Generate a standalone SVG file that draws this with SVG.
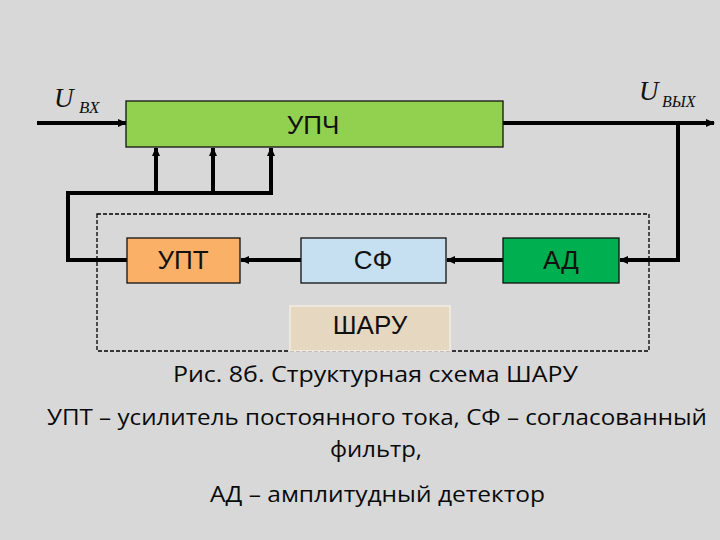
<svg xmlns="http://www.w3.org/2000/svg" width="720" height="540" viewBox="0 0 720 540">
<defs>
<marker id="ah" markerUnits="userSpaceOnUse" markerWidth="9" markerHeight="8" refX="8" refY="4" orient="auto">
<path d="M0,0 L9,4 L0,8 z" fill="#000"/>
</marker>
<style>
.box{stroke:#111;stroke-width:1.3}
.lbl{font-family:"Liberation Sans",Arial,sans-serif;font-size:26px;fill:#111;text-anchor:middle}
.wire{fill:none;stroke:#000;stroke-width:4}
.cap{font-family:"Open Sans","Noto Sans",sans-serif;font-size:22px;fill:#0a0a0a}
.u{font-family:"Liberation Serif","Times New Roman",serif;font-style:italic;fill:#111}
</style>
</defs>
<rect width="720" height="540" fill="#d8d8d8"/>

<rect id="dashed-frame" x="97" y="214" width="552" height="137" fill="none" stroke="#000" stroke-width="1.3" stroke-dasharray="4,2"/>

<g id="connectors">
<line class="wire" x1="37" y1="123" x2="126" y2="123" marker-end="url(#ah)"/>
<line class="wire" x1="503" y1="123" x2="714" y2="123" marker-end="url(#ah)"/>
<polyline class="wire" points="678,123 678,260 620,260" marker-end="url(#ah)"/>
<line class="wire" x1="503" y1="260" x2="447" y2="260" marker-end="url(#ah)"/>
<line class="wire" x1="301" y1="260" x2="241" y2="260" marker-end="url(#ah)"/>
<polyline class="wire" points="127,260 68,260 68,193 272,193"/>
<line class="wire" x1="156" y1="193" x2="156" y2="148" marker-end="url(#ah)"/>
<line class="wire" x1="213" y1="193" x2="213" y2="148" marker-end="url(#ah)"/>
<line class="wire" x1="271" y1="195" x2="271" y2="148" marker-end="url(#ah)"/>
</g>

<g id="upch">
<rect class="box" x="126" y="101" width="377" height="46" fill="#92d050"/>
<text class="lbl" x="313" y="134">УПЧ</text>
</g>
<g id="upt">
<rect class="box" x="127" y="238" width="113" height="45" fill="#fab066"/>
<text class="lbl" x="183" y="269">УПТ</text>
</g>
<g id="sf">
<rect class="box" x="301" y="238" width="145" height="45" fill="#c6dff1"/>
<text class="lbl" x="373" y="269">СФ</text>
</g>
<g id="ad">
<rect class="box" x="503" y="238" width="116" height="45" fill="#00b050"/>
<text class="lbl" x="561" y="269">АД</text>
</g>
<g id="sharu">
<rect x="290" y="306" width="160" height="45" fill="#e6d7c0" stroke="#f2ede4" stroke-width="1.5"/>
<text class="lbl" x="370" y="334">ШАРУ</text>
</g>

<g id="labels">
<text class="u" x="54" y="107" font-size="27">U</text>
<text class="u" x="79" y="113" font-size="17">ВХ</text>
<text class="u" x="639" y="100" font-size="27">U</text>
<text class="u" x="662" y="107" font-size="16">ВЫХ</text>
</g>

<g id="caption">
<text class="cap" x="173" y="382" textLength="405" lengthAdjust="spacingAndGlyphs">Рис. 8б. Структурная схема ШАРУ</text>
<text class="cap" x="47" y="425" textLength="660" lengthAdjust="spacingAndGlyphs">УПТ – усилитель постоянного тока, СФ – согласованный</text>
<text class="cap" x="330" y="457" textLength="92" lengthAdjust="spacingAndGlyphs">фильтр,</text>
<text class="cap" x="210" y="502" textLength="335" lengthAdjust="spacingAndGlyphs">АД – амплитудный детектор</text>
</g>
</svg>
